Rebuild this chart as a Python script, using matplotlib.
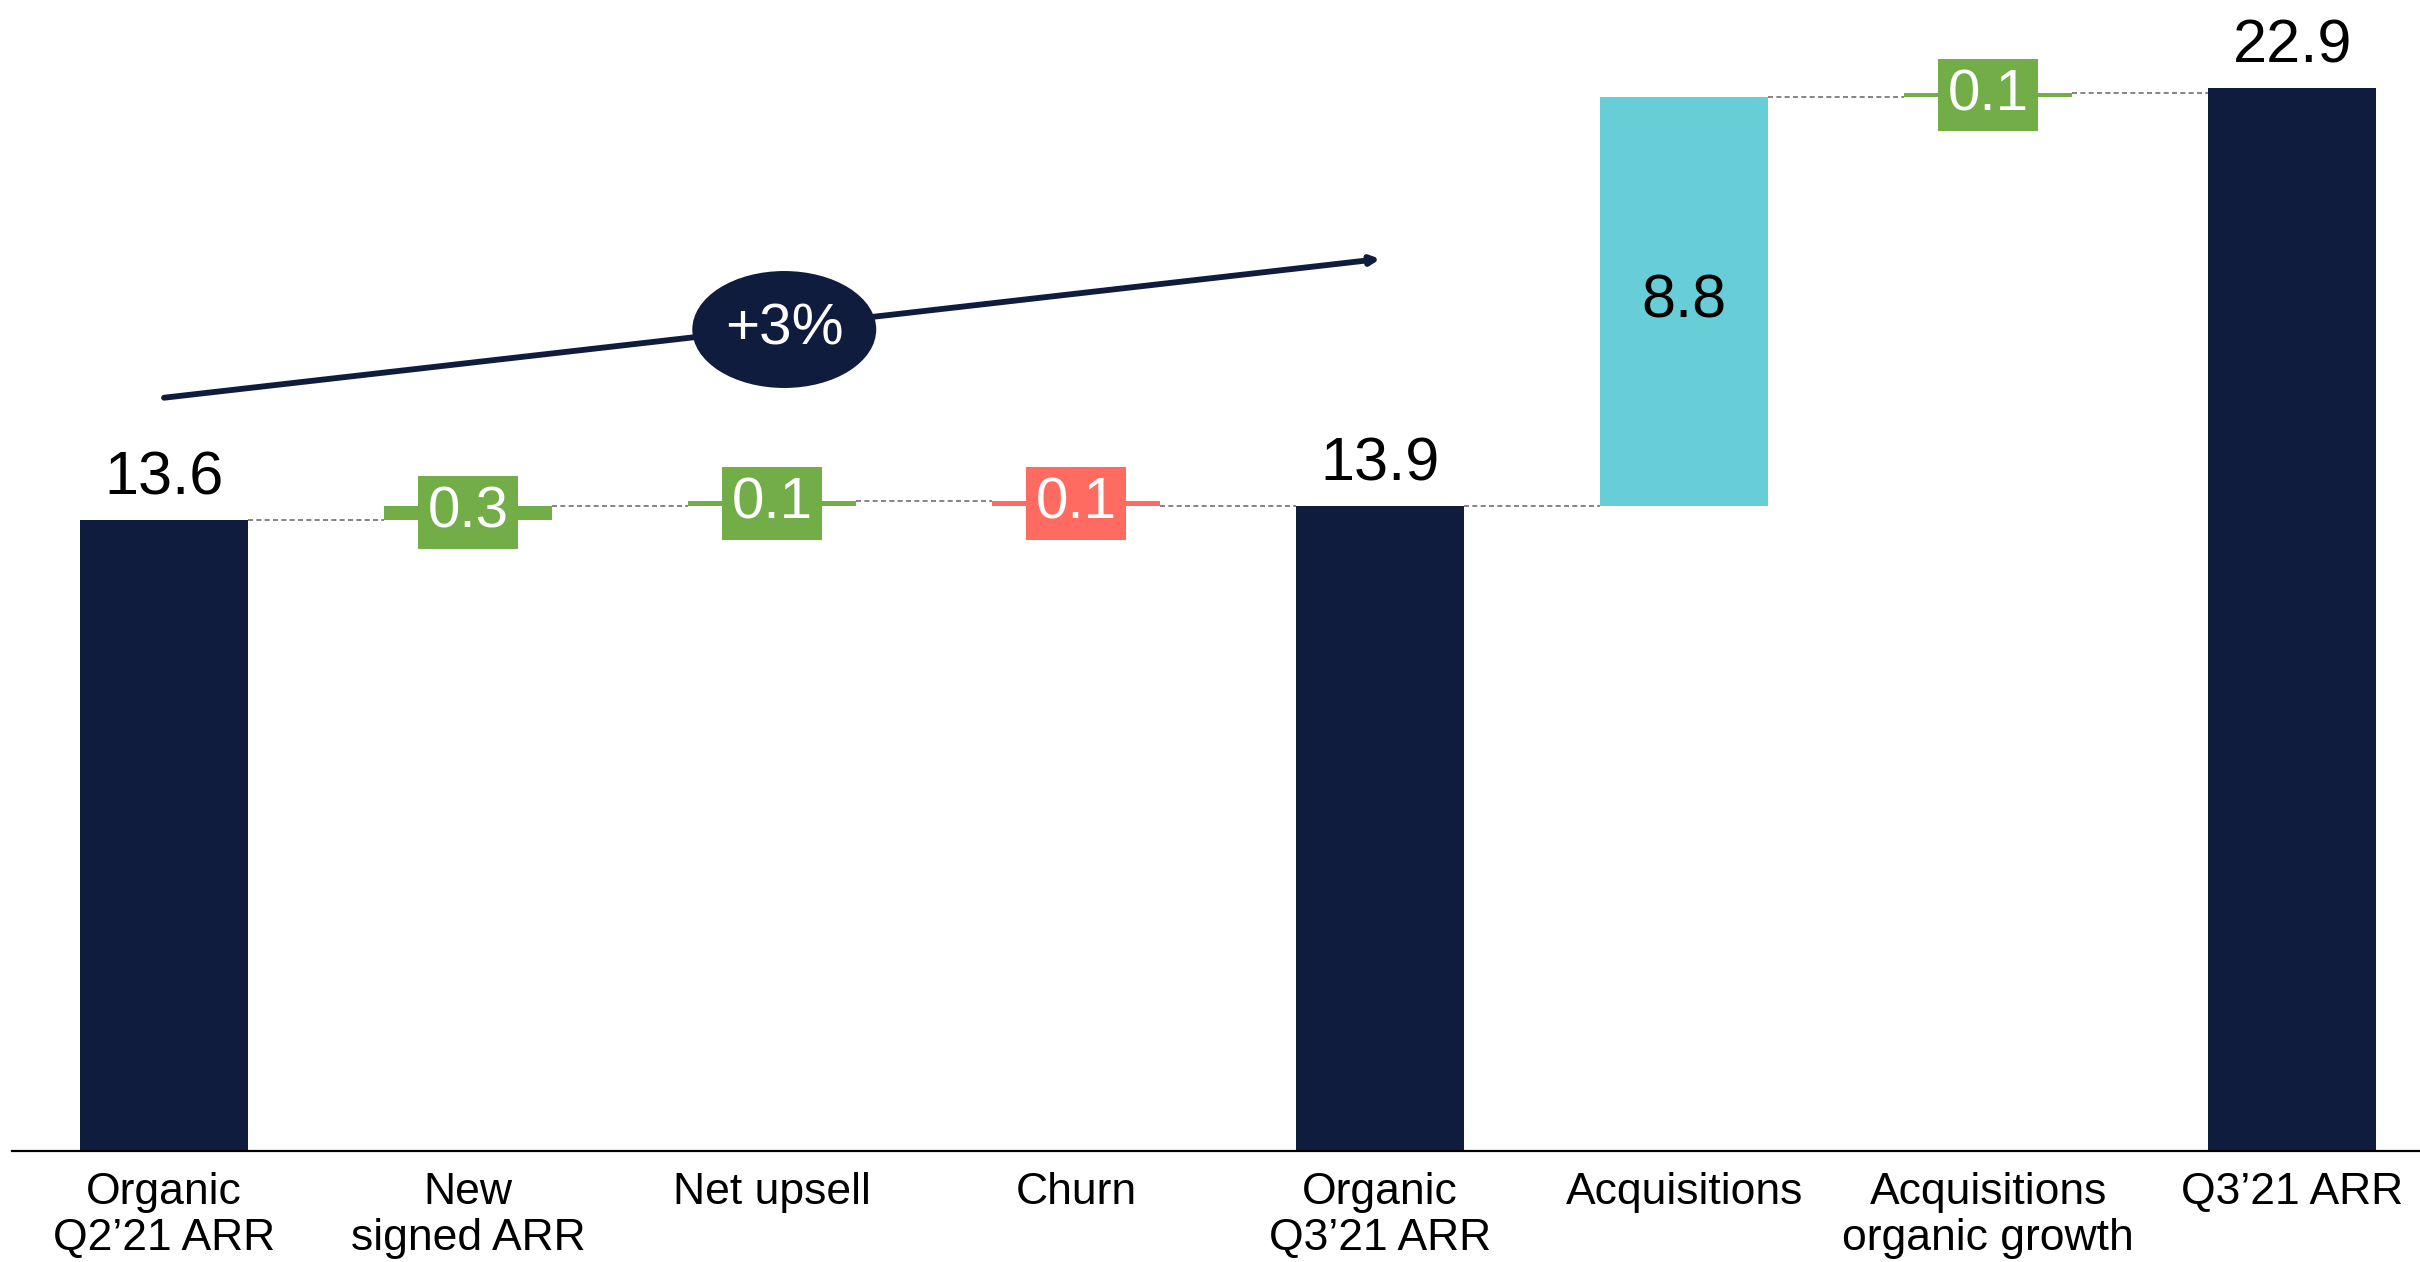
import matplotlib
matplotlib.use('Agg')
import matplotlib.pyplot as plt
from matplotlib.patches import Ellipse

plt.rcParams['font.family'] = ['Liberation Sans', 'DejaVu Sans']

# Data
categories = ['Organic\nQ2\u201921 ARR', 'New\nsigned ARR', 'Net upsell', 'Churn',
              'Organic\nQ3\u201921 ARR', 'Acquisitions', 'Acquisitions\norganic growth',
              'Q3\u201921 ARR']
values = [13.6, 0.3, 0.1, -0.1, 13.9, 8.8, 0.1, 22.9]
kinds = ['total', 'delta', 'delta', 'delta', 'total', 'delta', 'delta', 'total']
growth_label = '+3%'

navy = '#0f1c3e'
green = '#72ad48'
red = '#ff6b61'
cyan = '#67ced8'
bar_w = 0.553

fig = plt.figure(figsize=(24.2, 12.62), dpi=100)
ax = fig.add_axes([12 / 2420, 0.088, 1 - 12 / 2420, 0.912])

running = 0.0
ends = []
for i, (v, k) in enumerate(zip(values, kinds)):
    if k == 'total':
        bottom, height = 0, v
        color = navy
        running = v
    else:
        bottom, height = running, v
        if v < 0:
            color = red
        elif abs(v) > 1:
            color = cyan
        else:
            color = green
        running = running + v
    ax.bar(i, height, bottom=bottom, width=bar_w, color=color, zorder=2)
    ends.append(running)

    if k == 'total':
        ax.annotate(f'{v:.1f}', (i, v), xytext=(0, 9), textcoords='offset points',
                    ha='center', va='bottom', fontsize=44, color='black')
    elif abs(v) > 1:
        ax.text(i, bottom + height / 2, f'{abs(v):.1f}', ha='center', va='center',
                fontsize=44, color='black', zorder=3)
    else:
        ax.text(i, bottom + height / 2, f'{abs(v):.1f}', ha='center', va='center',
                fontsize=42, color='white', zorder=3,
                bbox=dict(boxstyle='square,pad=0.16', facecolor=color, edgecolor='none'))

# dashed connectors between bars
for i in range(len(values) - 1):
    ax.plot([i + bar_w / 2, i + 1 - bar_w / 2], [ends[i], ends[i]],
            color='#707070', linestyle=(0, (3, 2)), linewidth=1.2, zorder=1)

# growth arrow with badge
ax.annotate('', xy=(4.0, 19.22), xytext=(0.0, 16.23),
            arrowprops=dict(arrowstyle='-|>,head_length=0.5,head_width=0.25',
                            color=navy, linewidth=4.2, shrinkA=0, shrinkB=0))
ax.add_patch(Ellipse((2.04, 17.7), 0.605, 2.52, facecolor=navy, edgecolor='none', zorder=4))
ax.text(2.04, 17.7, growth_label, ha='center', va='center', fontsize=42,
        color='white', zorder=5)

ax.set_xlim(-0.5, 7.42)
ax.set_ylim(0, 24.8)
ax.set_xticks(range(len(categories)))
ax.set_xticklabels(categories, fontsize=32, linespacing=1.15)
ax.tick_params(axis='x', length=0, pad=15)
ax.set_yticks([])
for s in ['top', 'right', 'left']:
    ax.spines[s].set_visible(False)
ax.spines['bottom'].set_linewidth(1.6)
ax.spines['bottom'].set_color('black')

fig.savefig('out.png', dpi=100)
